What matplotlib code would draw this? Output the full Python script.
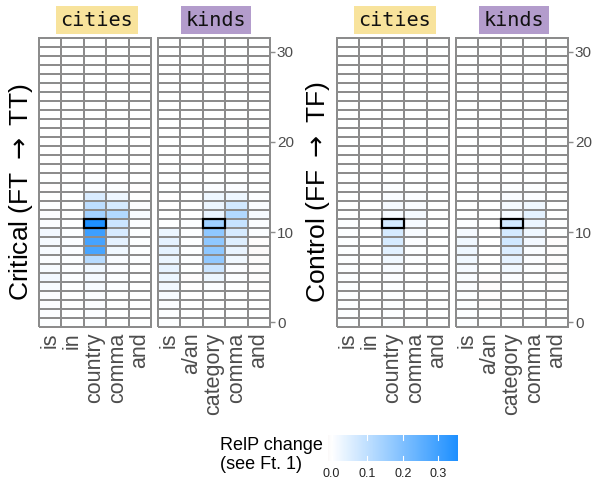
import numpy as np
import matplotlib
matplotlib.use("Agg")
import matplotlib.pyplot as plt
from matplotlib.colors import LinearSegmentedColormap, Normalize
from matplotlib.patches import Rectangle

# ---------------- data ----------------
cities_tokens = ["is", "in", "country", "comma", "and"]
kinds_tokens = ["is", "a/an", "category", "comma", "and"]
n_layers = 32
focus_layer = 11
focus_col = 2
dataset_titles = ["cities", "kinds"]
row_titles = ["Critical (FT $\\rightarrow$ TT)", "Control (FF $\\rightarrow$ TF)"]
legend_title = "RelP change\n(see Ft. 1)"
cbar_ticks = [0.0, 0.1, 0.2, 0.3]
y_ticks = [0, 10, 20, 30]

# rows = layer 0 .. 31, columns = tokens
critical_cities = [
    [0.005, 0.002, 0.005, 0.000, 0.000],  # 0
    [0.006, 0.000, 0.006, 0.000, 0.000],
    [0.006, 0.000, 0.006, 0.000, 0.000],
    [0.008, 0.000, 0.008, 0.002, 0.000],
    [0.012, 0.002, 0.012, 0.003, 0.000],
    [0.020, 0.003, 0.016, 0.005, 0.000],  # 5
    [0.012, 0.004, 0.022, 0.006, 0.002],
    [0.008, 0.005, 0.110, 0.010, 0.003],
    [0.012, 0.006, 0.285, 0.022, 0.004],
    [0.016, 0.006, 0.290, 0.040, 0.003],
    [0.020, 0.003, 0.305, 0.063, 0.004],  # 10
    [0.008, 0.002, 0.352, 0.080, 0.006],
    [0.006, 0.002, 0.145, 0.120, 0.012],
    [0.004, 0.000, 0.103, 0.065, 0.006],
    [0.002, 0.000, 0.060, 0.027, 0.002],
    [-0.002, 0.000, 0.008, 0.004, -0.002],  # 15
    [0.002, 0.000, 0.004, 0.002, 0.000],
    [0.000, 0.000, 0.002, 0.000, 0.000],
    [0.002, 0.000, 0.000, 0.000, 0.000],
    [0.000, 0.000, 0.000, 0.000, 0.000],
    [0.000, 0.000, 0.002, 0.000, 0.000],  # 20
    [0.000, 0.000, 0.000, 0.000, 0.000],
    [0.002, 0.000, 0.000, 0.000, 0.000],
    [0.000, 0.000, 0.000, 0.000, 0.000],
    [0.000, 0.000, 0.000, 0.000, 0.000],
    [-0.002, 0.000, 0.000, 0.000, 0.000],  # 25
    [-0.002, 0.000, 0.000, 0.000, 0.000],
    [0.000, 0.000, 0.000, 0.000, 0.000],
    [0.000, 0.000, 0.000, 0.000, 0.000],
    [0.000, 0.000, 0.000, 0.000, 0.000],
    [0.000, 0.000, 0.000, 0.000, 0.000],  # 30
    [0.000, 0.000, 0.000, 0.000, 0.000],
]

critical_kinds = [
    [0.004, 0.000, 0.000, 0.000, 0.000],  # 0
    [0.004, 0.000, 0.000, 0.000, 0.000],
    [0.006, 0.000, 0.000, 0.000, 0.000],
    [0.012, -0.002, 0.002, 0.000, 0.000],
    [0.020, -0.002, 0.006, 0.000, -0.002],
    [0.028, -0.004, 0.030, 0.004, -0.003],  # 5
    [0.036, 0.002, 0.080, 0.008, -0.004],
    [0.032, 0.003, 0.170, 0.022, -0.006],
    [0.040, 0.004, 0.175, 0.035, -0.010],
    [0.040, 0.005, 0.175, 0.050, -0.005],
    [0.030, 0.005, 0.175, 0.065, 0.006],  # 10
    [0.002, 0.003, 0.150, 0.090, 0.008],
    [0.000, 0.002, 0.035, 0.120, 0.014],
    [-0.002, 0.000, 0.030, 0.070, 0.010],
    [-0.002, 0.000, 0.025, 0.025, 0.003],
    [0.000, 0.000, 0.006, 0.006, 0.000],  # 15
    [0.000, 0.000, 0.002, 0.002, 0.000],
    [0.000, 0.000, 0.000, 0.000, 0.000],
    [0.000, -0.002, 0.000, 0.000, 0.000],
    [0.000, 0.000, 0.000, 0.000, 0.000],
    [0.000, 0.000, 0.000, 0.000, 0.000],  # 20
    [0.000, 0.000, 0.000, 0.000, 0.000],
    [0.000, 0.000, 0.000, -0.002, 0.000],
    [0.000, 0.000, 0.000, 0.000, 0.000],
    [0.000, 0.000, 0.000, 0.000, 0.000],
    [0.000, 0.000, 0.000, 0.000, 0.000],  # 25
    [0.000, 0.000, 0.000, 0.000, 0.000],
    [0.000, 0.000, 0.000, 0.000, 0.000],
    [0.000, 0.000, 0.000, 0.000, 0.000],
    [0.000, 0.000, 0.000, 0.000, 0.000],
    [0.000, 0.000, 0.000, 0.000, 0.000],  # 30
    [0.000, 0.000, 0.000, 0.000, 0.000],
]

control_cities = [
    [0.003, 0.000, 0.003, 0.000, 0.000],  # 0
    [0.003, 0.000, 0.003, 0.000, 0.000],
    [0.003, 0.000, 0.003, 0.000, 0.000],
    [0.003, 0.000, 0.003, 0.000, 0.000],
    [0.004, 0.000, 0.004, 0.000, 0.000],
    [0.004, 0.000, 0.008, 0.000, 0.000],  # 5
    [0.004, 0.000, 0.012, 0.002, 0.000],
    [0.004, 0.000, 0.022, 0.003, 0.000],
    [0.004, 0.000, 0.045, 0.004, 0.000],
    [0.004, 0.000, 0.065, 0.007, 0.000],
    [0.004, 0.000, 0.065, 0.012, 0.002],  # 10
    [0.003, 0.000, 0.070, 0.014, 0.002],
    [0.002, 0.000, 0.016, 0.016, 0.000],
    [0.000, 0.000, 0.016, 0.010, 0.000],
    [0.000, 0.000, 0.010, 0.006, 0.000],
    [0.000, 0.000, 0.004, 0.002, 0.000],  # 15
    [0.000, 0.000, 0.002, 0.000, 0.000],
    [0.000, 0.000, 0.000, 0.000, 0.000],
    [0.000, 0.000, 0.000, 0.000, 0.000],
    [0.000, 0.000, 0.000, 0.000, 0.000],
    [0.000, 0.000, 0.000, 0.000, 0.000],  # 20
    [0.000, 0.000, 0.000, 0.000, 0.000],
    [0.000, 0.000, 0.000, 0.000, 0.000],
    [0.000, 0.000, 0.000, 0.000, 0.000],
    [0.000, 0.000, 0.000, 0.000, 0.000],
    [0.000, 0.000, 0.000, 0.000, 0.000],  # 25
    [0.000, 0.000, 0.000, 0.000, 0.000],
    [0.000, 0.000, 0.000, 0.000, 0.000],
    [0.000, 0.000, 0.000, 0.000, 0.000],
    [0.000, 0.000, 0.000, 0.000, 0.000],
    [0.000, 0.000, 0.000, 0.000, 0.000],  # 30
    [0.000, 0.000, 0.000, 0.000, 0.000],
]

control_kinds = [
    [0.003, 0.000, 0.000, 0.000, 0.000],  # 0
    [0.003, 0.000, 0.000, 0.000, 0.000],
    [0.004, -0.003, 0.000, 0.000, 0.000],
    [0.005, -0.003, 0.000, 0.000, -0.002],
    [0.006, -0.004, 0.002, 0.000, -0.002],
    [0.010, -0.003, 0.006, 0.000, -0.003],  # 5
    [0.015, 0.000, 0.022, 0.003, -0.003],
    [0.022, 0.000, 0.040, 0.006, -0.003],
    [0.026, 0.000, 0.055, 0.010, -0.003],
    [0.024, 0.000, 0.072, 0.020, -0.004],
    [0.014, 0.000, 0.068, 0.027, 0.000],  # 10
    [0.004, 0.000, 0.072, 0.032, 0.000],
    [0.000, 0.000, 0.014, 0.042, 0.002],
    [0.000, 0.000, 0.014, 0.022, 0.002],
    [0.000, 0.000, 0.009, 0.008, 0.000],
    [0.000, 0.000, 0.003, 0.003, 0.000],  # 15
    [0.000, 0.000, 0.000, 0.000, 0.000],
    [0.000, 0.000, 0.000, 0.000, 0.000],
    [0.000, 0.000, 0.000, 0.000, 0.000],
    [0.000, 0.000, 0.000, 0.000, 0.000],
    [0.000, 0.000, 0.000, 0.000, 0.000],  # 20
    [0.000, 0.000, 0.000, 0.000, 0.000],
    [0.000, 0.000, 0.000, 0.000, 0.000],
    [0.000, 0.000, 0.000, 0.000, 0.000],
    [0.000, 0.000, 0.000, 0.000, 0.000],
    [0.000, 0.000, 0.000, 0.000, 0.000],  # 25
    [0.000, 0.000, 0.000, 0.000, 0.000],
    [0.000, 0.000, 0.000, 0.000, 0.000],
    [0.000, 0.000, 0.000, 0.000, 0.000],
    [0.000, 0.000, 0.000, 0.000, 0.000],
    [0.000, 0.000, 0.000, 0.000, 0.000],  # 30
    [0.000, 0.000, 0.000, 0.000, 0.000],
]

# ---------------- style ----------------
plt.rcParams['font.family'] = ['Liberation Sans', 'DejaVu Sans']
plt.rcParams['mathtext.fontset'] = 'dejavusans'
W, H = 594, 483
fig = plt.figure(figsize=(W / 100, H / 100), dpi=100)

all_vals = np.array([critical_cities, critical_kinds, control_cities, control_kinds])
vmax = all_vals.max()
vmin = all_vals.min()
lim = max(abs(vmax), abs(vmin))
cmap = LinearSegmentedColormap.from_list("relp", ["#832424", "#ffffff", "#1e90ff"])
norm = Normalize(vmin=-lim, vmax=lim)

title_colors = {"cities": "#f8e39c", "kinds": "#b39ccc"}
grid_color = "#8c8c8c"
text_gray = "#4d4d4d"


def px_ax(x0, y0, w, h):
    return fig.add_axes([x0 / W, 1 - (y0 + h) / H, w / W, h / H])


panels = [
    (critical_cities, cities_tokens, "cities", 39, False),
    (critical_kinds, kinds_tokens, "kinds", 158, True),
    (control_cities, cities_tokens, "cities", 337, False),
    (control_kinds, kinds_tokens, "kinds", 456, True),
]
top, ph, pw = 38, 289, 112

for data, tokens, ds, x0, right_ticks in panels:
    ax = px_ax(x0, top, pw, ph)
    arr = np.array(data)
    xe = np.arange(len(tokens) + 1) - 0.5
    ye = np.arange(n_layers + 1) - 0.5
    mesh = ax.pcolormesh(xe, ye, arr, cmap=cmap, norm=norm,
                         edgecolors=grid_color, linewidth=1.1)
    mesh.set_clip_on(False)
    ax.add_patch(Rectangle((focus_col - 0.5, focus_layer - 0.5), 1, 1,
                           fill=False, edgecolor="black", linewidth=1.6,
                           zorder=5, clip_on=False))
    ax.set_xlim(-0.5, len(tokens) - 0.5)
    ax.set_ylim(-0.5, n_layers - 0.5)
    for s in ax.spines.values():
        s.set_visible(False)
    ax.set_xticks(range(len(tokens)))
    ax.set_xticklabels(tokens, rotation=90, fontsize=15.5, color=text_gray,
                       ha="center", va="top")
    ax.tick_params(axis="x", length=0, pad=4)
    if right_ticks:
        ax.yaxis.tick_right()
        ax.set_yticks(y_ticks)
        ax.set_yticklabels([str(t) for t in y_ticks], fontsize=11, color=text_gray)
        ax.tick_params(axis="y", length=3.5, width=1, color=grid_color, pad=1.5)
    else:
        ax.set_yticks([])
    # title strip
    fig.text((x0 + pw / 2 + 2) / W, 1 - 20 / H, ds, family="DejaVu Sans Mono",
             fontsize=14.5, ha="center", va="center", color="#111111",
             bbox=dict(boxstyle="square,pad=0.22", facecolor=title_colors[ds],
                       edgecolor="none"))

fig.text(21 / W, 1 - 192 / H, row_titles[0], rotation=90, fontsize=19,
         ha="center", va="center")
fig.text(318 / W, 1 - 192 / H, row_titles[1], rotation=90, fontsize=19,
         ha="center", va="center")

# legend
fig.text(220 / W, 1 - 455 / H, legend_title, fontsize=13, ha="left",
         va="center", linespacing=1.15)
cax = px_ax(328, 435, 129, 26)
grad = np.linspace(vmin, vmax, 300)
cax.imshow(grad[np.newaxis, :], aspect="auto", cmap=cmap, norm=norm,
           extent=[vmin, vmax, 0, 1])
cax.set_xlim(vmin, vmax)
cax.set_ylim(0, 1)
for t in cbar_ticks:
    cax.plot([t, t], [0, 0.2], color="white", lw=0.8)
    cax.plot([t, t], [0.8, 1], color="white", lw=0.8)
for s in cax.spines.values():
    s.set_visible(False)
cax.set_yticks([])
cax.set_xticks(cbar_ticks)
cax.set_xticklabels([f"{t:.1f}" for t in cbar_ticks], fontsize=9, color="#222222")
cax.tick_params(axis="x", length=0, pad=5)

fig.savefig("out.png", dpi=100)
